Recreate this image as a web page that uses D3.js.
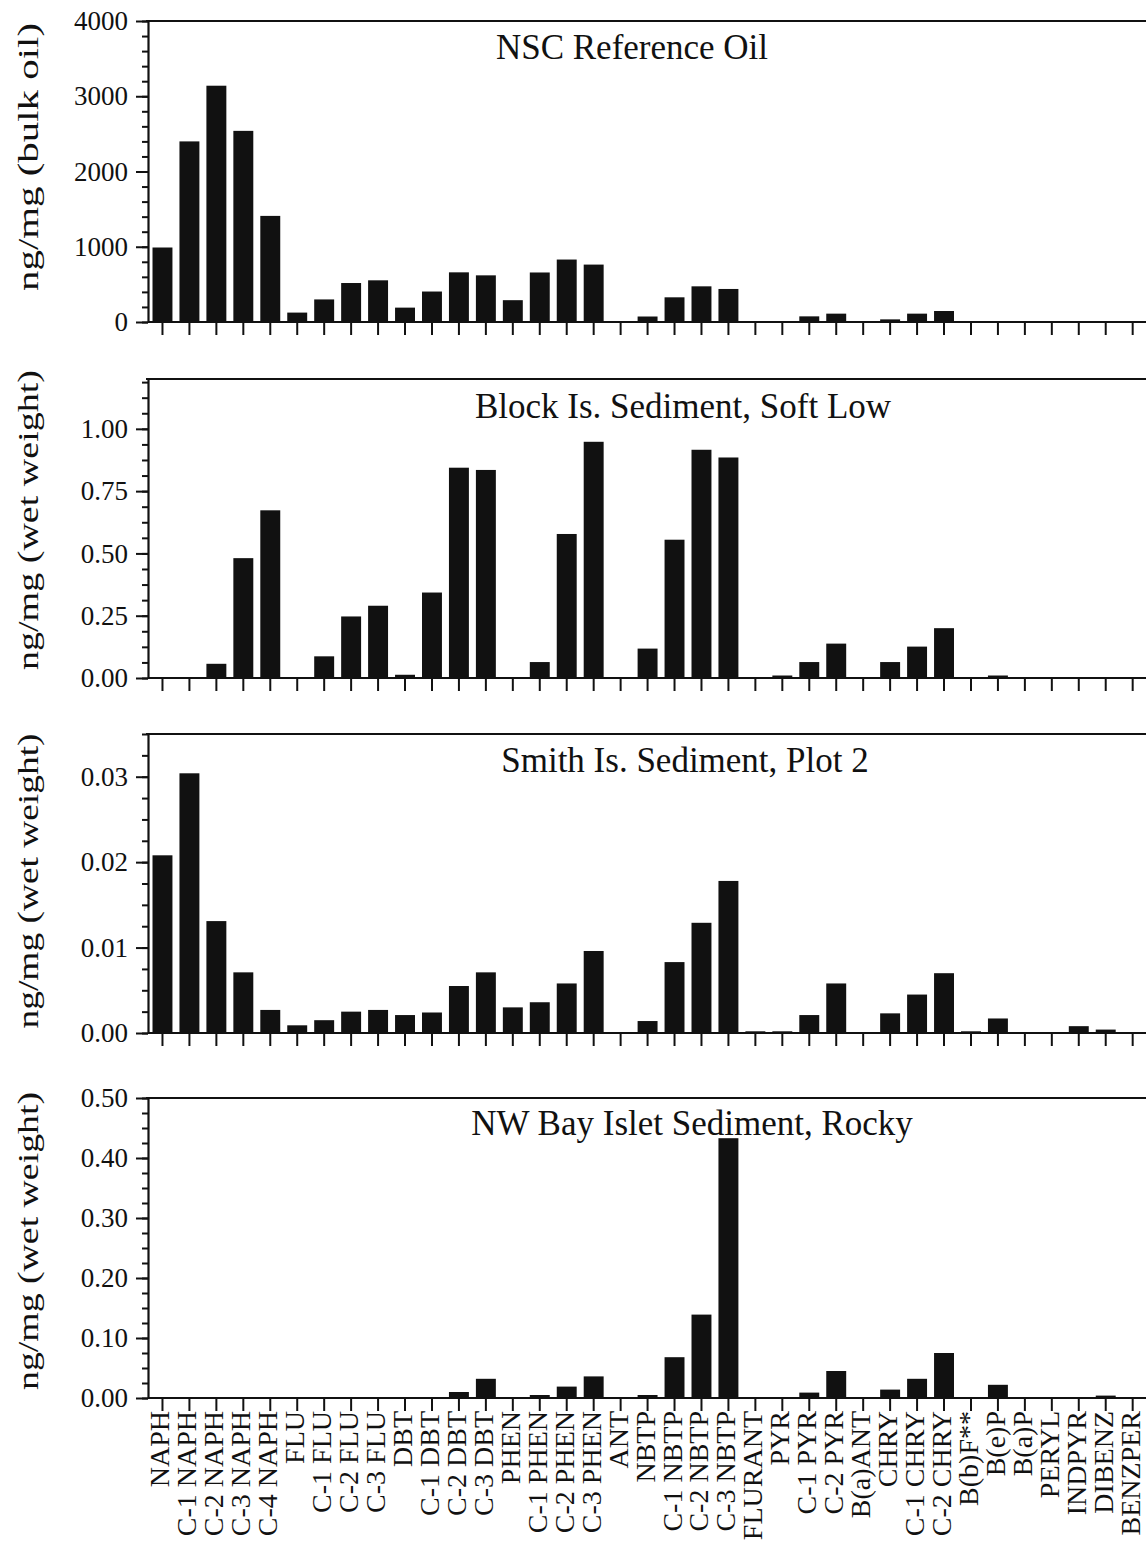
<!DOCTYPE html>
<html>
<head>
<meta charset="utf-8">
<script src="https://cdn.jsdelivr.net/npm/d3@7"></script>
<style>
  body { margin: 0; background: #fff; }
  svg { display: block; }
  text { font-family: "Liberation Serif", "Times New Roman", serif; fill: #111; }
</style>
</head>
<body>
<svg id="chart" width="1146" height="1545"></svg>
<script>
// PAH compound classes along the shared x axis
const compounds = [
  "NAPH", "C-1 NAPH", "C-2 NAPH", "C-3 NAPH", "C-4 NAPH",
  "FLU", "C-1 FLU", "C-2 FLU", "C-3 FLU",
  "DBT", "C-1 DBT", "C-2 DBT", "C-3 DBT",
  "PHEN", "C-1 PHEN", "C-2 PHEN", "C-3 PHEN",
  "ANT", "NBTP", "C-1 NBTP", "C-2 NBTP", "C-3 NBTP",
  "FLURANT", "PYR", "C-1 PYR", "C-2 PYR",
  "B(a)ANT", "CHRY", "C-1 CHRY", "C-2 CHRY",
  "B(b)F**", "B(e)P", "B(a)P", "PERYL", "INDPYR", "DIBENZ", "BENZPER"
];

// ng/mg (bulk oil)
const nscReferenceOil = [
  990, 2400, 3140, 2540, 1410,
  125, 300, 518, 554,
  191, 405, 660, 620,
  290, 658, 830, 763,
  0, 73, 328, 474, 439,
  0, 0, 75, 111,
  0, 35, 111, 146,
  0, 0, 0, 0, 0, 0, 0
];

// ng/mg (wet weight)
const blockIsSoftLow = [
  0, 0, 0.057, 0.481, 0.673,
  0, 0.087, 0.247, 0.290,
  0.013, 0.343, 0.844, 0.835,
  0, 0.064, 0.578, 0.948,
  0, 0.118, 0.555, 0.916, 0.885,
  0, 0.010, 0.064, 0.138,
  0, 0.064, 0.126, 0.200,
  0, 0.010, 0, 0, 0, 0, 0
];

// ng/mg (wet weight)
const smithIsPlot2 = [
  0.0208, 0.0304, 0.0131, 0.0071, 0.0027,
  0.0009, 0.0015, 0.0025, 0.0027,
  0.0021, 0.0024, 0.0055, 0.0071,
  0.0030, 0.0036, 0.0058, 0.0096,
  0, 0.0014, 0.0083, 0.0129, 0.0178,
  0.0002, 0.0002, 0.0021, 0.0058,
  0, 0.0023, 0.0045, 0.0070,
  0.0002, 0.0017, 0, 0, 0.0008, 0.0004, 0
];

// ng/mg (wet weight)
const nwBayIsletRocky = [
  0, 0, 0, 0, 0,
  0, 0, 0, 0,
  0, 0, 0.010, 0.032,
  0, 0.005, 0.019, 0.036,
  0, 0.005, 0.068, 0.139, 0.433,
  0, 0, 0.009, 0.045,
  0, 0.014, 0.032, 0.075,
  0, 0.022, 0, 0, 0, 0.004, 0
];

const panelTitles = [
  "NSC Reference Oil",
  "Block Is. Sediment, Soft Low",
  "Smith Is. Sediment, Plot 2",
  "NW Bay Islet Sediment, Rocky"
];
const yAxisTitles = [
  "ng/mg (bulk oil)",
  "ng/mg (wet weight)",
  "ng/mg (wet weight)",
  "ng/mg (wet weight)"
];
const yDomainMax = [4000, 1.2, 0.035, 0.5];
const yMajorTicks = [
  [0, 1000, 2000, 3000, 4000],
  [0, 0.25, 0.5, 0.75, 1.0],
  [0, 0.01, 0.02, 0.03],
  [0, 0.1, 0.2, 0.3, 0.4, 0.5]
];
const yMinorStep = [200, 0.0625, 0.0025, 0.025];
const yTickFormats = ["d", ".2f", ".2f", ".2f"];
const seriesList = [nscReferenceOil, blockIsSoftLow, smithIsPlot2, nwBayIsletRocky];

// layout of the four stacked panels
const layout = [
  { top: 21,   bottom: 322,  titleX: 632, titleY: 59,   labelY: 157,  labelLen: 268 },
  { top: 379,  bottom: 678,  titleX: 683, titleY: 418,  labelY: 520,  labelLen: 300 },
  { top: 734,  bottom: 1033, titleX: 685, titleY: 772,  labelY: 881,  labelLen: 295 },
  { top: 1098, bottom: 1398, titleX: 692, titleY: 1135, labelY: 1241, labelLen: 298 }
];

const W = 1146;
const axisX = 148;
const ink = "#111";

const svg = d3.select("#chart");

const x = d3.scaleBand()
  .domain(compounds)
  .range([149, 149 + compounds.length * 26.95])
  .paddingInner(0.26)
  .paddingOuter(0.13);

seriesList.forEach((values, p) => {
  const L = layout[p];
  const g = svg.append("g");
  const y = d3.scaleLinear().domain([0, yDomainMax[p]]).range([L.bottom, L.top]);

  // bars
  g.append("g").selectAll("rect")
    .data(values.map((v, i) => ({ name: compounds[i], v })))
    .join("rect")
    .attr("x", d => x(d.name))
    .attr("width", x.bandwidth())
    .attr("y", d => y(d.v))
    .attr("height", d => y(0) - y(d.v))
    .attr("fill", ink);

  // top frame line
  g.append("line")
    .attr("x1", axisX - 2).attr("x2", W)
    .attr("y1", L.top).attr("y2", L.top)
    .attr("stroke", ink).attr("stroke-width", 2.2);

  // baseline
  g.append("line")
    .attr("x1", axisX).attr("x2", W)
    .attr("y1", L.bottom).attr("y2", L.bottom)
    .attr("stroke", ink).attr("stroke-width", 2.2);

  // minor y ticks
  const minor = d3.range(0, yDomainMax[p] + 1e-9, yMinorStep[p]);
  const minorAxis = d3.axisLeft(y).tickValues(minor).tickSize(6).tickSizeOuter(0).tickFormat("");
  const gm = g.append("g").attr("transform", `translate(${axisX},0)`).call(minorAxis);
  gm.select(".domain").remove();

  // major y ticks with labels
  const yAxis = d3.axisLeft(y)
    .tickValues(yMajorTicks[p])
    .tickSize(12)
    .tickSizeOuter(0)
    .tickPadding(8)
    .tickFormat(d3.format(yTickFormats[p]));
  const gy = g.append("g").attr("transform", `translate(${axisX},0)`).call(yAxis);
  gy.selectAll("text")
    .style("font-family", "'Liberation Serif', serif")
    .style("font-size", "27px")
    .attr("fill", ink);

  [gm, gy].forEach(a => {
    a.selectAll("line").attr("stroke", ink).attr("stroke-width", 2);
    a.selectAll(".domain").attr("stroke", ink).attr("stroke-width", 2.2);
  });

  // x ticks (labels only on the bottom panel)
  const last = p === seriesList.length - 1;
  const xAxis = d3.axisBottom(x).tickSize(13).tickSizeOuter(0)
    .tickPadding(3)
    .tickFormat(last ? (d => d) : "");
  const gx = g.append("g").attr("transform", `translate(0,${L.bottom})`).call(xAxis);
  gx.select(".domain").remove();
  gx.selectAll("line").attr("stroke", ink).attr("stroke-width", 2);
  if (last) {
    gx.selectAll("text")
      .style("font-family", "'Liberation Serif', serif")
      .style("font-size", "28px")
      .attr("fill", ink)
      .attr("text-anchor", "end")
      .attr("transform", "rotate(-90)")
      .attr("x", -13)
      .attr("y", 0)
      .attr("dy", "0.25em");
  }

  // panel title
  g.append("text")
    .attr("x", L.titleX)
    .attr("y", L.titleY)
    .attr("text-anchor", "middle")
    .style("font-size", "35px")
    .text(panelTitles[p]);

  // y axis title
  g.append("text")
    .attr("transform", `translate(38,${L.labelY}) rotate(-90)`)
    .attr("text-anchor", "middle")
    .style("font-size", "30px")
    .attr("textLength", L.labelLen)
    .attr("lengthAdjust", "spacingAndGlyphs")
    .text(yAxisTitles[p]);
});
</script>
</body>
</html>
